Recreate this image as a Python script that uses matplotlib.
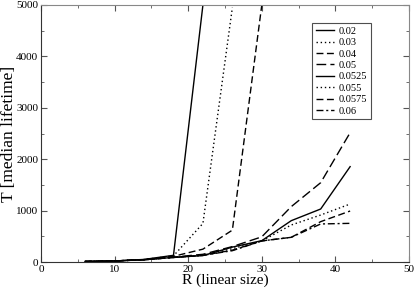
import matplotlib
matplotlib.use("Agg")
import matplotlib.pyplot as plt
from matplotlib.ticker import MultipleLocator

plt.rcParams['font.family'] = ['Liberation Serif', 'DejaVu Serif']

R = [6, 10, 14, 18, 22, 26, 30, 34, 38, 42]
labels = ["0.02", "0.03", "0.04", "0.05", "0.0525", "0.055", "0.0575", "0.06"]
series = {
    "0.02":   [10, 20, 50, 130, 5000],
    "0.03":   [10, 20, 48, 120, 750, 4950],
    "0.04":   [10, 20, 46, 110, 250, 620, 5000],
    "0.05":   [10, 20, 45, 95, 150, 300, 490, 1077, 1543, 2516],
    "0.0525": [10, 20, 44, 90, 125, 290, 415, 804, 1031, 1855],
    "0.055":  [10, 20, 44, 90, 130, 260, 410, 720, 914, 1128],
    "0.0575": [10, 20, 44, 88, 130, 230, 410, 480, 785, 992],
    "0.06":   [10, 20, 44, 88, 130, 220, 410, 480, 740, 752],
}
styles = {
    "0.02": '-', "0.03": (0, (1, 2)), "0.04": (0, (5, 2.5)), "0.05": (0, (7, 3)),
    "0.0525": '-', "0.055": (0, (1, 2)), "0.0575": (0, (5, 2.5)), "0.06": (0, (5, 2, 1.5, 2)),
}

fig = plt.figure(figsize=(4.15, 2.91), dpi=100)
ax = fig.add_axes([41/415, 1 - 262/291, 368/415, 257/291])
for lab in labels:
    y = series[lab]
    ax.plot(R[:len(y)], y, color='black', lw=1.0, linestyle=styles[lab], label=lab)

ax.set_xlim(0, 50)
ax.set_ylim(0, 5000)
ax.xaxis.set_major_locator(MultipleLocator(10))
ax.xaxis.set_minor_locator(MultipleLocator(5))
ax.yaxis.set_major_locator(MultipleLocator(1000))
ax.yaxis.set_minor_locator(MultipleLocator(500))
ax.tick_params(which='both', direction='in', top=True, right=True, labelsize=8, color='#555555', pad=2)
ax.tick_params(which='major', length=4)
ax.tick_params(which='minor', length=2)
for side in ('left', 'bottom'):
    ax.spines[side].set_color('#333333')
for side in ('top', 'right'):
    ax.spines[side].set_color('#888888')
ax.set_xlabel("R (linear size)", fontsize=11, labelpad=0)
ax.set_ylabel("T [median lifetime]", fontsize=12.5)
ax.yaxis.set_label_coords(-0.066, 0.5)
leg = ax.legend(loc='upper right', bbox_to_anchor=(0.897, 0.93), borderaxespad=0, fontsize=7.5, frameon=True,
                fancybox=False, handlelength=1.7, labelspacing=0.2, borderpad=0.35, handletextpad=0.5)
leg.get_frame().set_edgecolor('#222222')
leg.get_frame().set_linewidth(0.8)
fig.savefig("out.png", dpi=100)
